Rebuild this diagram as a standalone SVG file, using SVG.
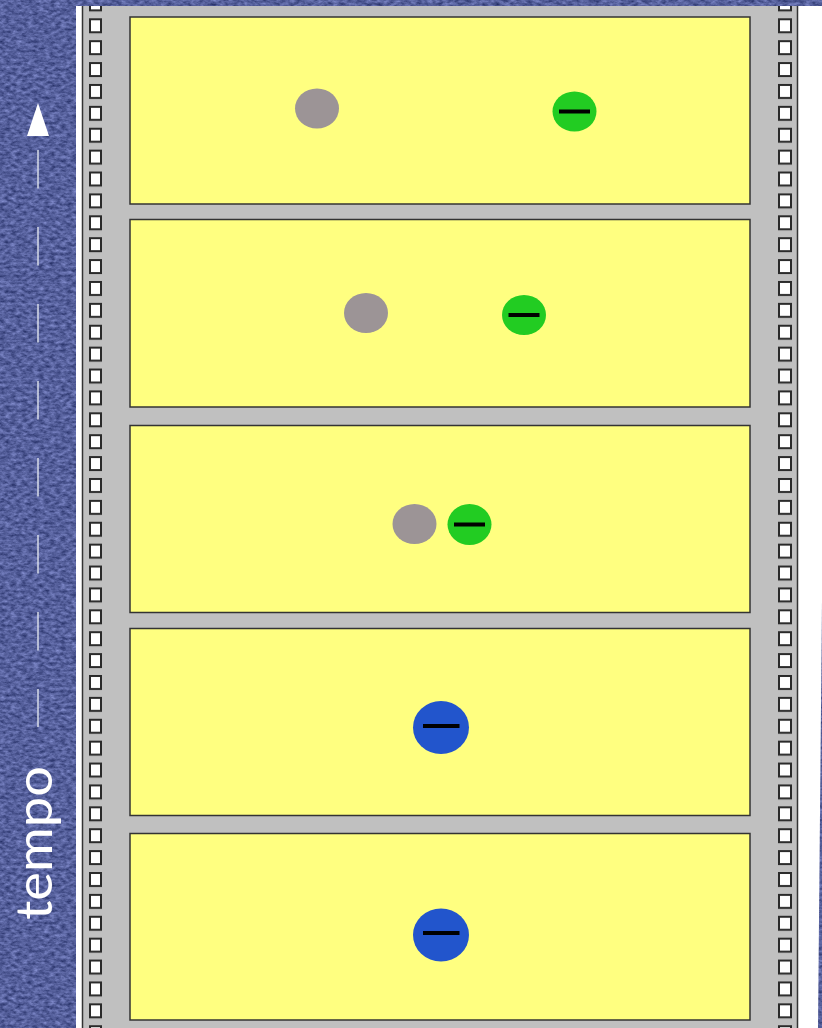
<svg xmlns="http://www.w3.org/2000/svg" width="822" height="1028" viewBox="0 0 822 1028">
  <style>
    .frame { fill: #FFFF80; stroke: #333333; stroke-width: 1.5; }
    .gray { fill: #9C9496; }
    .green { fill: #22CC22; }
    .blue { fill: #2255CC; }
    .minus { stroke: #000000; stroke-width: 4; stroke-linecap: butt; }
    .edge { stroke: #333333; stroke-width: 1.5; fill: none; }
    .hole { fill: #FFFFFF; stroke: #2A2A2A; stroke-width: 2; }
    .label { font-family: "Lato", "Open Sans", "DejaVu Sans", sans-serif; font-weight: normal; font-size: 50px; fill: #FFFFFF; }
  </style>
  <defs>
    <filter id="denim" x="0" y="0" width="100%" height="100%" filterUnits="objectBoundingBox" color-interpolation-filters="sRGB">
      <feTurbulence type="fractalNoise" baseFrequency="0.18 0.32" numOctaves="3" seed="7" result="n"/>
      <feColorMatrix in="n" type="matrix" values="0.45 0 0 0 0.11  0.45 0 0 0 0.15  0.5 0 0 0 0.36  0 0 0 0 1"/>
    </filter>
    <pattern id="holesL" patternUnits="userSpaceOnUse" x="88" y="-3.6" width="16" height="21.89">
      <rect class="hole" x="2" y="1" width="11" height="13"/>
    </pattern>
    <pattern id="holesR" patternUnits="userSpaceOnUse" x="777" y="-3.6" width="16" height="21.89">
      <rect class="hole" x="2" y="1" width="12" height="13"/>
    </pattern>
  </defs>

  <!-- denim background -->
  <rect x="0" y="0" width="822" height="1028" fill="#56669E"/>
  <rect x="0" y="0" width="822" height="1028" filter="url(#denim)"/>

  <!-- film strip -->
  <g id="filmstrip">
    <rect x="76" y="6" width="8" height="1022" fill="#FFFFFF"/>
    <polygon points="796,6 822,6 822,600 818,1028 796,1028" fill="#FFFFFF"/>
    <rect x="82.5" y="6" width="715" height="1022" fill="#C0C0C0"/>
    <line class="edge" x1="82.5" y1="6" x2="82.5" y2="1028"/>
    <line class="edge" x1="797.5" y1="6" x2="797.5" y2="1028"/>
    <rect x="88" y="6" width="16" height="1022" fill="url(#holesL)"/>
    <rect x="777" y="6" width="16" height="1022" fill="url(#holesR)"/>
  </g>

  <!-- frame 1 -->
  <g id="frame1">
    <rect class="frame" x="130" y="17" width="620" height="187"/>
    <ellipse class="gray" cx="317" cy="108.5" rx="22" ry="20"/>
    <ellipse class="green" cx="574.5" cy="111.5" rx="22" ry="20"/>
    <line class="minus" x1="559" y1="111.5" x2="590" y2="111.5"/>
  </g>

  <!-- frame 2 -->
  <g id="frame2">
    <rect class="frame" x="130" y="219.5" width="620" height="187.5"/>
    <ellipse class="gray" cx="366" cy="313" rx="22" ry="20"/>
    <ellipse class="green" cx="524" cy="315" rx="22" ry="20"/>
    <line class="minus" x1="508.5" y1="315" x2="539.5" y2="315"/>
  </g>

  <!-- frame 3 -->
  <g id="frame3">
    <rect class="frame" x="130" y="425.5" width="620" height="187"/>
    <ellipse class="gray" cx="414.5" cy="524" rx="22" ry="20"/>
    <ellipse class="green" cx="469.5" cy="524.5" rx="22" ry="20.5"/>
    <line class="minus" x1="454" y1="524.5" x2="485" y2="524.5"/>
  </g>

  <!-- frame 4 -->
  <g id="frame4">
    <rect class="frame" x="130" y="628.5" width="620" height="187"/>
    <ellipse class="blue" cx="441" cy="727.5" rx="28" ry="26.5"/>
    <line class="minus" x1="423" y1="726" x2="459.5" y2="726"/>
  </g>

  <!-- frame 5 -->
  <g id="frame5">
    <rect class="frame" x="130" y="833.5" width="620" height="186.5"/>
    <ellipse class="blue" cx="441" cy="935" rx="28" ry="26.5"/>
    <line class="minus" x1="423" y1="933" x2="459.5" y2="933"/>
  </g>

  <!-- time axis -->
  <g id="connectors">
    <polygon points="38,103 27,136 49,136" fill="#FFFFFF"/>
    <line x1="38" y1="150" x2="38" y2="727" stroke="#D8DCE8" stroke-width="1.5" stroke-dasharray="38.5 38.5"/>
  </g>

  <g id="time-label">
    <text class="label" transform="translate(52,843) rotate(-90)" x="0" y="0" text-anchor="middle" textLength="154" lengthAdjust="spacingAndGlyphs">tempo</text>
  </g>
</svg>
